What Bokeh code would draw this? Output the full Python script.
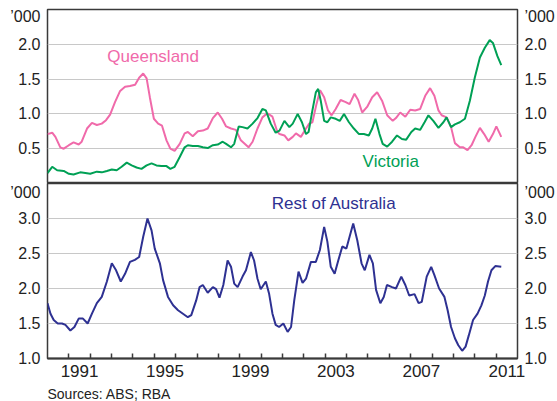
from bokeh.plotting import figure
from bokeh.models import Range1d, LinearAxis, FixedTicker, Label
from bokeh.layouts import column
from bokeh.embed import file_html
from bokeh.resources import INLINE

# ---------------- data (dwelling approvals, trend, '000) ----------------
qld_year = [1990.0, 1990.22, 1990.37, 1990.6, 1990.76, 1991.0, 1991.22, 1991.46, 1991.6, 1991.85,
            1992.08, 1992.31, 1992.54, 1992.74, 1992.93, 1993.16, 1993.4, 1993.63, 1993.86, 1994.1,
            1994.29, 1994.48, 1994.64, 1994.79, 1994.98, 1995.18, 1995.36, 1995.57, 1995.75, 1995.95,
            1996.19, 1996.42, 1996.57, 1996.8, 1997.04, 1997.27, 1997.5, 1997.74, 1997.97, 1998.17,
            1998.36, 1998.59, 1998.82, 1999.05, 1999.41, 1999.6, 1999.83, 2000.06, 2000.29, 2000.53,
            2000.75, 2000.86, 2001.09, 2001.27, 2001.48, 2001.63, 2001.86, 2002.1, 2002.25, 2002.4,
            2002.59, 2002.76, 2002.95, 2003.13, 2003.3, 2003.49, 2003.72, 2003.96, 2004.14, 2004.37,
            2004.54, 2004.73, 2004.96, 2005.2, 2005.43, 2005.66, 2005.9, 2006.16, 2006.31, 2006.51,
            2006.75, 2006.98, 2007.21, 2007.44, 2007.68, 2007.91, 2008.11, 2008.3, 2008.45, 2008.68,
            2008.89, 2009.07, 2009.3, 2009.46, 2009.66, 2009.85, 2010.03, 2010.24, 2010.44, 2010.65,
            2010.85, 2011.01, 2011.24]
qld_val = [0.71, 0.73, 0.67, 0.52, 0.50, 0.55, 0.59, 0.56, 0.60, 0.79,
           0.87, 0.84, 0.86, 0.91, 0.99, 1.17, 1.33, 1.39, 1.40, 1.42,
           1.52, 1.58, 1.51, 1.24, 0.93, 0.86, 0.83, 0.62, 0.50, 0.47,
           0.57, 0.72, 0.74, 0.68, 0.75, 0.76, 0.79, 0.94, 1.02, 0.93,
           0.82, 0.79, 0.77, 0.62, 0.52, 0.60, 0.79, 0.95, 1.01, 0.96,
           0.75, 0.71, 0.69, 0.62, 0.67, 0.72, 0.67, 0.79, 0.86, 0.88,
           1.14, 1.34, 1.24, 1.05, 0.98, 1.07, 1.20, 1.17, 1.14, 1.29,
           1.20, 1.02, 1.10, 1.24, 1.31, 1.19, 0.98, 0.90, 0.94, 1.02,
           0.96, 1.06, 1.05, 1.07, 1.26, 1.37, 1.26, 1.05, 0.98, 0.95,
           0.81, 0.58, 0.52, 0.52, 0.48, 0.55, 0.67, 0.80, 0.71, 0.60,
           0.71, 0.82, 0.67]

vic_year = [1990.0, 1990.22, 1990.45, 1990.76, 1991.0, 1991.22, 1991.53, 1991.77, 1992.0, 1992.31,
            1992.54, 1992.78, 1993.01, 1993.24, 1993.47, 1993.71, 1993.94, 1994.17, 1994.4, 1994.64,
            1994.87, 1995.1, 1995.33, 1995.57, 1995.75, 1995.95, 1996.19, 1996.42, 1996.57, 1996.8,
            1997.04, 1997.27, 1997.5, 1997.74, 1997.97, 1998.2, 1998.36, 1998.59, 1998.74, 1998.95,
            1999.13, 1999.36, 1999.6, 1999.83, 2000.06, 2000.22, 2000.45, 2000.68, 2000.86, 2001.09,
            2001.32, 2001.48, 2001.71, 2001.91, 2002.1, 2002.22, 2002.4, 2002.56, 2002.67, 2002.79,
            2002.95, 2003.1, 2003.26, 2003.49, 2003.68, 2003.88, 2004.11, 2004.34, 2004.58, 2004.81,
            2005.04, 2005.2, 2005.35, 2005.54, 2005.69, 2005.9, 2006.13, 2006.36, 2006.59, 2006.79,
            2007.03, 2007.21, 2007.44, 2007.65, 2007.83, 2008.06, 2008.3, 2008.53, 2008.68, 2008.89,
            2009.07, 2009.3, 2009.54, 2009.77, 2010.0, 2010.24, 2010.47, 2010.7, 2010.85, 2011.06,
            2011.24]
vic_val = [0.15, 0.24, 0.19, 0.18, 0.14, 0.13, 0.16, 0.15, 0.14, 0.17,
           0.16, 0.18, 0.20, 0.19, 0.24, 0.30, 0.26, 0.23, 0.21, 0.26,
           0.29, 0.26, 0.25, 0.25, 0.21, 0.24, 0.38, 0.52, 0.55, 0.54,
           0.54, 0.52, 0.51, 0.55, 0.56, 0.60, 0.57, 0.52, 0.57, 0.82,
           0.81, 0.79, 0.86, 0.94, 1.07, 1.05, 0.86, 0.73, 0.76, 0.90,
           0.81, 0.86, 1.00, 0.88, 0.71, 0.74, 1.05, 1.31, 1.36, 1.19,
           0.90, 0.88, 0.95, 0.93, 0.90, 1.00, 0.88, 0.79, 0.71, 0.71,
           0.69, 0.79, 0.93, 0.71, 0.57, 0.53, 0.60, 0.69, 0.64, 0.63,
           0.74, 0.79, 0.77, 0.88, 0.98, 0.90, 0.80, 0.88, 0.95, 0.81,
           0.85, 0.88, 0.93, 1.19, 1.52, 1.81, 1.95, 2.06, 2.02, 1.83,
           1.70]

roa_year = [1990.0, 1990.14, 1990.29, 1990.48, 1990.68, 1990.84, 1991.07, 1991.26, 1991.46, 1991.66,
            1991.88, 1992.08, 1992.31, 1992.54, 1992.78, 1993.01, 1993.21, 1993.43, 1993.63, 1993.86,
            1994.09, 1994.29, 1994.48, 1994.68, 1994.87, 1995.02, 1995.26, 1995.41, 1995.64, 1995.88,
            1996.11, 1996.34, 1996.57, 1996.73, 1996.96, 1997.12, 1997.27, 1997.5, 1997.74, 1997.89,
            1998.05, 1998.23, 1998.43, 1998.59, 1998.74, 1998.9, 1999.13, 1999.29, 1999.52, 1999.67,
            1999.83, 1999.98, 2000.22, 2000.37, 2000.53, 2000.68, 2000.84, 2001.04, 2001.24, 2001.4,
            2001.55, 2001.75, 2001.94, 2002.1, 2002.33, 2002.56, 2002.75, 2002.95, 2003.1, 2003.26,
            2003.44, 2003.61, 2003.8, 2003.99, 2004.14, 2004.31, 2004.5, 2004.7, 2004.85, 2005.07,
            2005.23, 2005.38, 2005.58, 2005.74, 2005.89, 2006.13, 2006.31, 2006.56, 2006.75, 2006.93,
            2007.18, 2007.37, 2007.52, 2007.75, 2007.96, 2008.11, 2008.33, 2008.58, 2008.73, 2008.89,
            2009.07, 2009.23, 2009.41, 2009.57, 2009.72, 2009.92, 2010.13, 2010.31, 2010.47, 2010.62,
            2010.78, 2010.96, 2011.24]
roa_val = [1.79, 1.64, 1.55, 1.50, 1.50, 1.48, 1.40, 1.45, 1.57, 1.57,
           1.50, 1.64, 1.79, 1.88, 2.10, 2.36, 2.26, 2.10, 2.21, 2.38,
           2.41, 2.45, 2.74, 3.00, 2.83, 2.57, 2.36, 2.12, 1.88, 1.76,
           1.69, 1.64, 1.59, 1.62, 1.83, 2.02, 2.05, 1.94, 2.02, 1.99,
           1.87, 2.05, 2.40, 2.31, 2.07, 2.02, 2.17, 2.26, 2.52, 2.40,
           2.14, 1.99, 2.10, 1.93, 1.64, 1.48, 1.45, 1.50, 1.38, 1.45,
           1.83, 2.24, 2.08, 2.14, 2.38, 2.38, 2.55, 2.88, 2.67, 2.31,
           2.21, 2.40, 2.60, 2.57, 2.74, 2.93, 2.69, 2.36, 2.26, 2.48,
           2.36, 1.98, 1.79, 1.88, 2.05, 2.02, 2.00, 2.17, 2.05, 1.90,
           1.92, 1.79, 1.81, 2.17, 2.31, 2.19, 2.00, 1.88, 1.69, 1.45,
           1.29, 1.19, 1.11, 1.17, 1.33, 1.55, 1.64, 1.76, 1.90, 2.10,
           2.26, 2.32, 2.31]

top_ticks = [0.5, 1.0, 1.5, 2.0]
top_grid = [0.5, 1.0, 1.5, 2.0]
bottom_ticks = [1.0, 1.5, 2.0, 2.5, 3.0]
bottom_grid = [1.5, 2.0, 2.5, 3.0]
top_unit_pos = 2.4      # where the "'000" unit label sits on the top panel axes
bottom_unit_pos = 3.4   # same for the bottom panel
year_ticks = list(range(1991, 2012))
label_years = [1991, 1995, 1999, 2003, 2007, 2011]
unit_text = "\u2019000"
source_text = "Sources: ABS; RBA"

# ---------------- styling ----------------
FONT = "Liberation Sans"
PINK = "#F06AAA"
GREEN = "#00A055"
BLUE = "#2E3192"
GRID = "#C8C8C8"
FRAME = "#3A3A3A"
TXT = "#222222"
W = 557
LB, RB = 47, 36
x_range = Range1d(1990, 2012)


def style_y(axis, ticks, unit_pos):
    axis.ticker = FixedTicker(ticks=ticks + [unit_pos])
    ov = {t: "%.1f" % t for t in ticks}
    ov[unit_pos] = unit_text
    axis.major_label_overrides = ov
    axis.major_tick_in = 0
    axis.major_tick_out = 0
    axis.minor_tick_in = 0
    axis.minor_tick_out = 0
    axis.axis_line_color = None
    axis.major_label_standoff = 7
    axis.major_label_text_font = FONT
    axis.major_label_text_font_size = "16px"
    axis.major_label_text_color = TXT


def base(height, y0, y1, ticks, grid, unit_pos, bottom):
    p = figure(width=W, height=height, x_range=x_range, y_range=Range1d(y0, y1),
               output_backend="svg", toolbar_location=None, x_axis_location=None,
               min_border_left=LB, min_border_right=RB,
               min_border_top=(9 if not bottom else 0), min_border_bottom=(28 if bottom else 0))
    p.outline_line_color = FRAME
    p.outline_line_width = 1.5
    p.background_fill_color = "white"
    p.border_fill_color = "white"
    p.xgrid.visible = False
    style_y(p.yaxis[0], ticks, unit_pos)
    ra = LinearAxis()
    style_y(ra, ticks, unit_pos)
    p.add_layout(ra, "right")
    p.ygrid.ticker = FixedTicker(ticks=grid)
    p.ygrid.grid_line_color = GRID
    p.ygrid.grid_line_width = 1
    return p


# ---------------- top panel: Queensland & Victoria ----------------
p1 = base(183, 0, 2.5, top_ticks, top_grid, top_unit_pos, False)
p1.line(qld_year, qld_val, line_color=PINK, line_width=2)
p1.line(vic_year, vic_val, line_color=GREEN, line_width=2)
p1.add_layout(Label(x=1992.8, y=1.83, text="Queensland", text_align="left", text_baseline="middle",
                    text_font=FONT, text_font_size="17px", text_color=PINK))
p1.add_layout(Label(x=2004.75, y=0.31, text="Victoria", text_align="left", text_baseline="middle",
                    text_font=FONT, text_font_size="17px", text_color=GREEN))

# ---------------- bottom panel: Rest of Australia ----------------
p2 = base(203, 1.0, 3.5, bottom_ticks, bottom_grid, bottom_unit_pos, True)
p2.line(roa_year, roa_val, line_color=BLUE, line_width=2)
p2.add_layout(Label(x=2000.5, y=3.22, text="Rest of Australia", text_align="left", text_baseline="middle",
                    text_font=FONT, text_font_size="17px", text_color=BLUE))

xa = LinearAxis()
xa.ticker = FixedTicker(ticks=[y + 0.5 for y in label_years], minor_ticks=year_ticks)
xa.major_label_overrides = {y + 0.5: str(y) for y in label_years}
xa.major_tick_in = 0
xa.major_tick_out = 0
xa.minor_tick_in = 5
xa.minor_tick_out = 0
xa.minor_tick_line_color = FRAME
xa.minor_tick_line_width = 1.5
xa.axis_line_color = FRAME
xa.axis_line_width = 2
xa.major_label_standoff = 6
xa.major_label_text_font = FONT
xa.major_label_text_font_size = "17px"
xa.major_label_text_color = TXT
p2.add_layout(xa, "below")

# ---------------- sources strip ----------------
p3 = figure(width=W, height=15, x_range=x_range, y_range=Range1d(15, 0),
            output_backend="svg", toolbar_location=None, x_axis_location=None, y_axis_location=None,
            min_border_left=LB, min_border_right=RB, min_border_top=0, min_border_bottom=0)
p3.outline_line_color = None
p3.xgrid.visible = False
p3.ygrid.visible = False
p3.add_layout(Label(x=1990, y=7.5, text=source_text, text_align="left", text_baseline="middle",
                    text_font=FONT, text_font_size="14px", text_color=TXT))

layout = column(p1, p2, p3, spacing=0)
open("out.html", "w").write(file_html(layout, INLINE))
